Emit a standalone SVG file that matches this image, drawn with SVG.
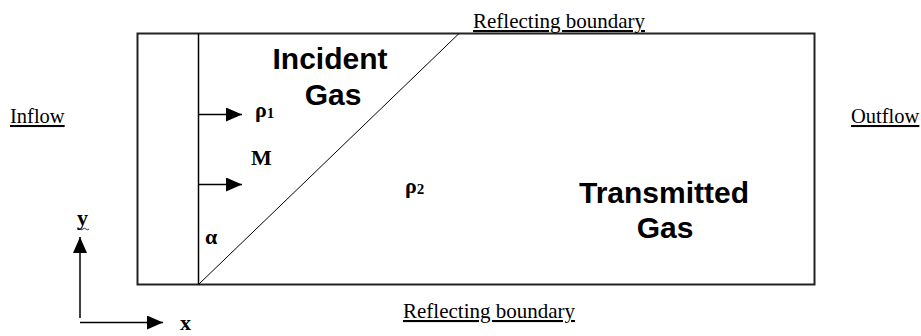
<svg xmlns="http://www.w3.org/2000/svg" width="921" height="336" viewBox="0 0 921 336">
<style>
.serif{font-family:"Liberation Serif","Times New Roman",serif;fill:#000}
.lbl{font-size:20.5px;text-decoration:underline}
.rb{font-size:21px}
.sym{font-size:22px;font-weight:bold}
.big{font-family:"Liberation Sans",Arial,sans-serif;font-size:30px;font-weight:bold;fill:#000;text-anchor:middle}
.frame{fill:none;stroke:#222;stroke-width:2}
.ln{stroke:#000;stroke-width:1.5;fill:none}
.thin{stroke:#000;stroke-width:1;fill:none}
</style>
<defs>
<marker id="ah" markerWidth="16" markerHeight="14" refX="16" refY="7" orient="auto" markerUnits="userSpaceOnUse">
<path d="M0,0 L16,7 L0,14 Z" fill="#000"/>
</marker>
</defs>
<g id="domain">
<rect class="frame" x="137.5" y="33.5" width="677" height="251"/>
<line class="ln" x1="198.5" y1="33.5" x2="198.5" y2="284.5"/>
<line class="thin" x1="198.5" y1="284.5" x2="459" y2="33.5"/>
</g>
<g id="connectors">
<line class="ln" x1="199" y1="114.5" x2="242" y2="114.5" marker-end="url(#ah)"/>
<line class="ln" x1="199" y1="184.5" x2="242" y2="184.5" marker-end="url(#ah)"/>
<line class="ln" x1="80" y1="318" x2="80" y2="237" marker-end="url(#ah)"/>
<line class="ln" x1="80" y1="322.5" x2="163" y2="322.5" marker-end="url(#ah)"/>
</g>
<g id="labels">
<text class="serif lbl rb" x="473" y="28">Reflecting boundary</text>
<text class="serif lbl rb" x="403" y="318">Reflecting boundary</text>
<text class="serif lbl" x="10" y="123">Inflow</text>
<text class="serif lbl" x="851" y="123">Outflow</text>
<text class="big" x="330" y="69">Incident</text>
<text class="big" x="333" y="105">Gas</text>
<text class="big" x="664" y="203">Transmitted</text>
<text class="big" x="665" y="238">Gas</text>
<text class="serif sym" x="255" y="117">ρ<tspan font-size="15" dy="1">1</tspan></text>
<text class="serif sym" x="251" y="165">M</text>
<text class="serif sym" x="405" y="193">ρ<tspan font-size="15" dy="1">2</tspan></text>
<text class="serif sym" x="205" y="244">α</text>
<text class="serif sym" x="77" y="225">y</text>
<path d="M77,229 q1.5,-1.5 3,0 t3,0 t3,0 t3,0" stroke="#000" stroke-width="0.8" fill="none"/>
<text class="serif sym" x="180" y="330">x</text>
</g>
</svg>
